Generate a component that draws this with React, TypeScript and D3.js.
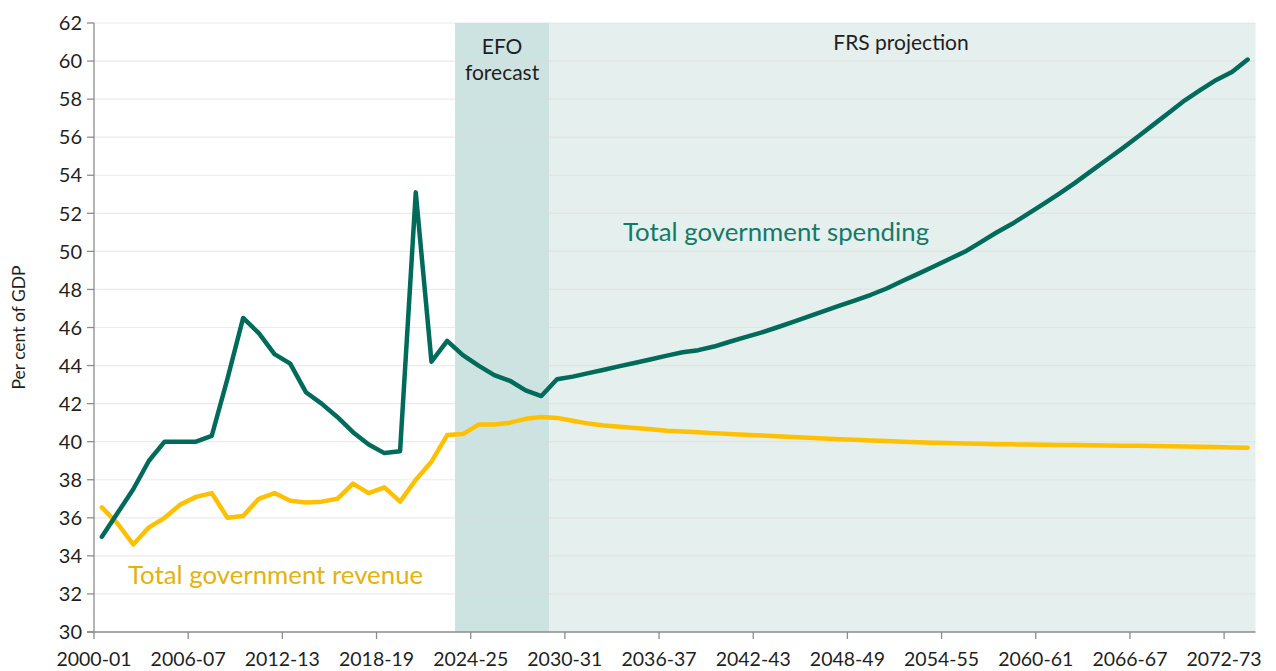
import React from "react";
import * as d3 from "d3";

const startYear = 2000;
const categories: string[] = d3.range(74).map(
  (i) => `${startYear + i}-${String((startYear + i + 1) % 100).padStart(2, "0")}`
);

const tickLabels = [
  "2000-01", "2006-07", "2012-13", "2018-19", "2024-25", "2030-31", "2036-37",
  "2042-43", "2048-49", "2054-55", "2060-61", "2066-67", "2072-73",
];

const yTicks = [30, 32, 34, 36, 38, 40, 42, 44, 46, 48, 50, 52, 54, 56, 58, 60, 62];

const spending = [
  35.0, 36.25, 37.5, 39.0, 40.0, 40.0, 40.0, 40.3, 43.3, 46.5,
  45.7, 44.6, 44.1, 42.6, 42.0, 41.3, 40.5, 39.85, 39.4, 39.5,
  53.1, 44.2, 45.3, 44.55, 44.0, 43.5, 43.2, 42.7, 42.4, 43.28,
  43.42, 43.6, 43.78, 43.97, 44.15, 44.33, 44.52, 44.7, 44.81, 45.0,
  45.25, 45.49, 45.73, 46.0, 46.28, 46.57, 46.86, 47.15, 47.43, 47.72,
  48.05, 48.44, 48.82, 49.21, 49.6, 49.99, 50.49, 50.99, 51.45, 51.97,
  52.5, 53.03, 53.6, 54.2, 54.8, 55.4, 56.02, 56.66, 57.3, 57.94,
  58.49, 59.01, 59.42, 60.08,
];

const revenue = [
  36.55, 35.7, 34.6, 35.5, 36.0, 36.7, 37.1, 37.3, 36.0, 36.1,
  37.0, 37.3, 36.9, 36.8, 36.85, 37.0, 37.8, 37.3, 37.6, 36.85,
  38.0, 38.95, 40.35, 40.4, 40.9, 40.9, 41.0, 41.2, 41.3, 41.25,
  41.1, 40.95, 40.85, 40.78, 40.72, 40.65, 40.58, 40.53, 40.49, 40.45,
  40.41, 40.37, 40.33, 40.29, 40.25, 40.21, 40.17, 40.13, 40.1, 40.06,
  40.03, 40.0, 39.97, 39.95, 39.93, 39.91, 39.89, 39.87, 39.86, 39.85,
  39.84, 39.83, 39.82, 39.81, 39.8, 39.79, 39.78, 39.77, 39.76, 39.75,
  39.74, 39.72, 39.7, 39.68,
];

const efoStart = "2023-24";
const frsStart = "2029-30";

const FONT = "Lato, 'Noto Sans', sans-serif";

export default function App() {
  const W = 1276;
  const H = 671;
  const x = d3.scaleLinear().domain([0, categories.length]).range([94, 1255.5]);
  const y = d3.scaleLinear().domain([30, 62]).range([632, 23]);
  const cx = (i: number) => x(i + 0.5);

  const line = d3
    .line<number>()
    .x((_, i) => cx(i))
    .y((d) => y(d))
    .curve(d3.curveLinear);

  const efoI = categories.indexOf(efoStart);
  const frsI = categories.indexOf(frsStart);

  return (
    <svg
      width={W}
      height={H}
      style={{ position: "absolute", left: 0, top: 0, background: "#fff" }}
      fontFamily={FONT}
    >
      {/* shaded regions */}
      <rect x={x(efoI)} y={y(62)} width={x(frsI) - x(efoI)} height={y(30) - y(62)} fill="#cde3e1" />
      <rect x={x(frsI)} y={y(62)} width={x(categories.length) - x(frsI)} height={y(30) - y(62)} fill="#e5efed" />

      {/* gridlines */}
      {yTicks.slice(1).map((t) => (
        <line key={t} x1={x(0)} x2={x(categories.length)} y1={y(t)} y2={y(t)} stroke="#dcdcdc" strokeOpacity={0.6} strokeWidth={1.2} />
      ))}

      {/* axes */}
      <line x1={x(0)} x2={x(0)} y1={y(62)} y2={y(30)} stroke="#8c8c8c" strokeWidth={1.3} />
      <line x1={x(0) - 7} x2={x(categories.length)} y1={y(30)} y2={y(30)} stroke="#8c8c8c" strokeWidth={1.3} />
      {yTicks.map((t) => (
        <g key={t}>
          <line x1={x(0) - 7} x2={x(0)} y1={y(t)} y2={y(t)} stroke="#8c8c8c" strokeWidth={1.3} />
          <text x={82} y={y(t)} dy="0.36em" textAnchor="end" fontSize={20} fill="#1f1f1f">
            {t}
          </text>
        </g>
      ))}
      {tickLabels.map((lab) => {
        const i = categories.indexOf(lab);
        return (
          <g key={lab}>
            <line x1={x(i)} x2={x(i)} y1={y(30)} y2={y(30) + 7} stroke="#8c8c8c" strokeWidth={1.3} />
            <text x={x(i)} y={666} textAnchor="middle" fontSize={19.5} fill="#1f1f1f">
              {lab}
            </text>
          </g>
        );
      })}

      <text transform={`translate(25,${(y(30) + y(62)) / 2}) rotate(-90)`} textAnchor="middle" fontSize={17.5} fill="#1f1f1f">
        Per cent of GDP
      </text>

      {/* lines */}
      <path d={line(revenue) || ""} fill="none" stroke="#ffc000" strokeWidth={4.5} strokeLinejoin="round" strokeLinecap="round" />
      <path d={line(spending) || ""} fill="none" stroke="#006b5a" strokeWidth={4.5} strokeLinejoin="round" strokeLinecap="round" />

      {/* annotations */}
      <text x={(x(efoI) + x(frsI)) / 2} y={54} textAnchor="middle" fontSize={21} fill="#1f1f1f">EFO</text>
      <text x={(x(efoI) + x(frsI)) / 2} y={80} textAnchor="middle" fontSize={21} fill="#1f1f1f">forecast</text>
      <text x={901} y={50} textAnchor="middle" fontSize={21} fill="#1f1f1f">FRS projection</text>
      <text x={623} y={241} fontSize={25.8} fill="#137a68">Total government spending</text>
      <text x={128} y={584} fontSize={25.8} fill="#e3b20e">Total government revenue</text>
    </svg>
  );
}
